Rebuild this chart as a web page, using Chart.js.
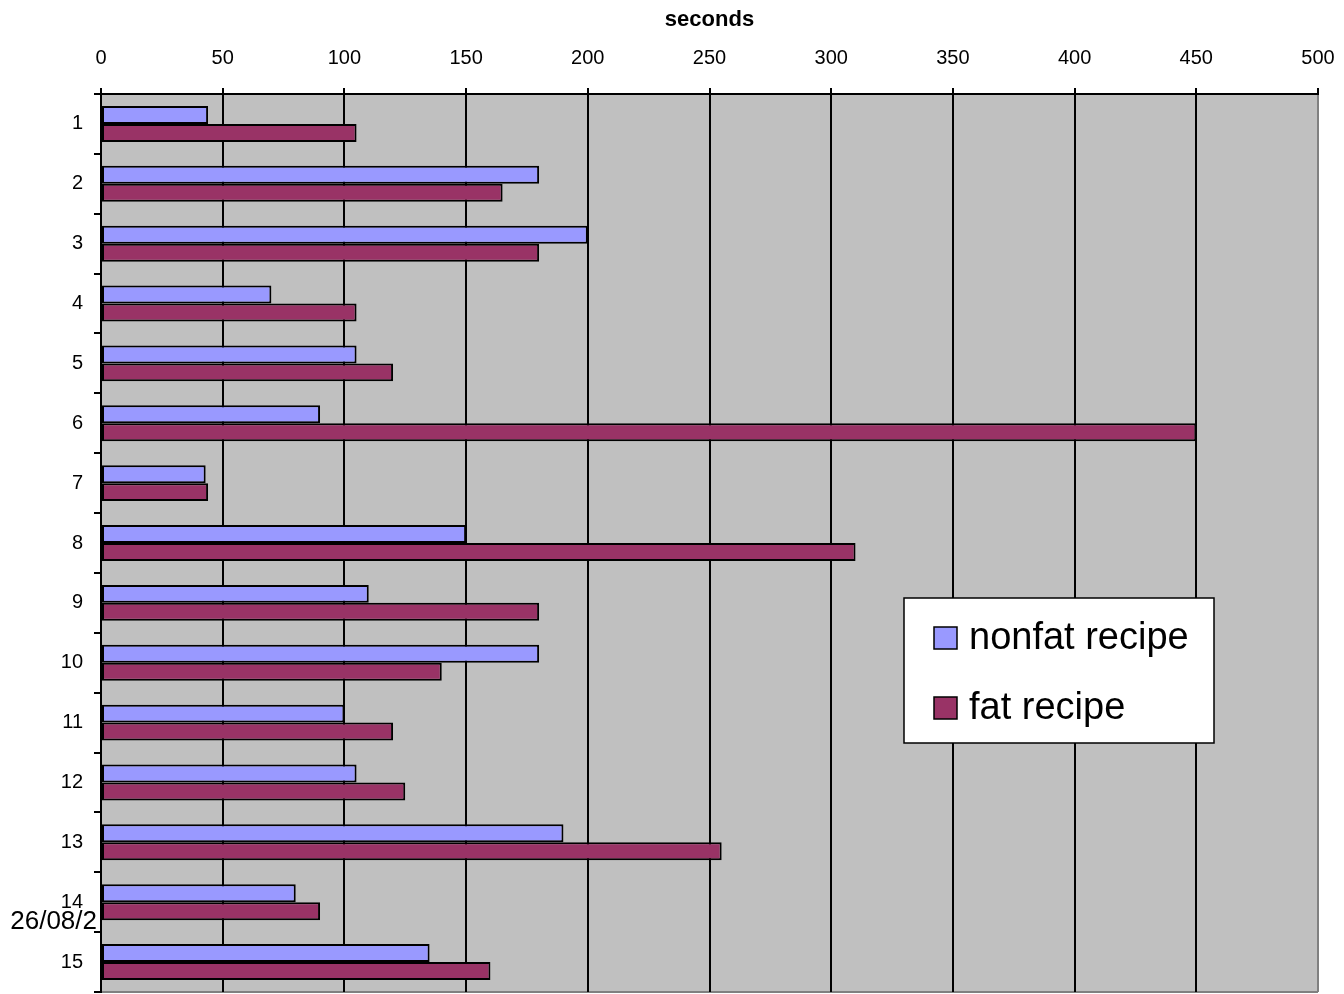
<!DOCTYPE html>
<html>
<head>
<meta charset="utf-8">
<script src="https://cdn.jsdelivr.net/npm/chart.js@4"></script>
<style>
  html, body { margin: 0; padding: 0; background: #fff; }
  #wrap { width: 1344px; height: 994px; }
</style>
</head>
<body>
<div id="wrap"><canvas id="chart" width="1344" height="994"></canvas></div>
<script>
const categories = ["1", "2", "3", "4", "5", "6", "7", "8", "9", "10", "11", "12", "13", "14", "15"];
const nonfatTimes = [44, 180, 200, 70, 105, 90, 43, 150, 110, 180, 100, 105, 190, 80, 135];
const fatTimes = [105, 165, 180, 105, 120, 450, 44, 310, 180, 140, 120, 125, 255, 90, 160];
const seriesNames = ["nonfat recipe", "fat recipe"];
const seriesColors = ["#9999FF", "#993366"];
const strayLabel = "26/08/2";

const FONT = '"Liberation Sans", Arial, sans-serif';

// gray plot area + bottom edge
const plotBackground = {
  id: "plotBackground",
  beforeDraw(chart) {
    const { ctx, chartArea: a } = chart;
    ctx.save();
    ctx.fillStyle = "#C0C0C0";
    ctx.fillRect(a.left, a.top, a.right - a.left, a.bottom - a.top);
    ctx.strokeStyle = "#808080";
    ctx.lineWidth = 2;
    ctx.beginPath();
    ctx.moveTo(a.left, a.bottom);
    ctx.lineTo(a.right, a.bottom);
    ctx.stroke();
    ctx.restore();
  },
};

// legend box floating inside the plot, plus the stray date text
const boxLegend = {
  id: "boxLegend",
  afterDraw(chart) {
    const ctx = chart.ctx;
    ctx.save();
    ctx.fillStyle = "#fff";
    ctx.fillRect(904, 598, 310, 145);
    ctx.strokeStyle = "#000";
    ctx.lineWidth = 1.5;
    ctx.strokeRect(904, 598, 310, 145);

    ctx.font = "38px " + FONT;
    ctx.textBaseline = "middle";
    ctx.textAlign = "left";
    chart.data.datasets.forEach((ds, i) => {
      const y = 627 + i * 70;
      ctx.fillStyle = ds.backgroundColor;
      ctx.fillRect(934, y, 23, 22);
      ctx.strokeStyle = "#000";
      ctx.lineWidth = 1.5;
      ctx.strokeRect(934, y, 23, 22);
      ctx.fillStyle = "#000";
      ctx.fillText(ds.label, 969, y + 12);
    });

    ctx.font = "26px " + FONT;
    ctx.textAlign = "right";
    ctx.fillText(strayLabel, 97, 922);
    ctx.restore();
  },
};

new Chart(document.getElementById("chart"), {
  type: "bar",
  data: {
    labels: categories,
    datasets: [
      {
        label: seriesNames[0],
        data: nonfatTimes,
        backgroundColor: seriesColors[0],
        borderColor: "#000",
        borderWidth: 2,
        borderSkipped: false,
      },
      {
        label: seriesNames[1],
        data: fatTimes,
        backgroundColor: seriesColors[1],
        borderColor: "#000",
        borderWidth: 2,
        borderSkipped: false,
      },
    ],
  },
  options: {
    indexAxis: "y",
    responsive: false,
    animation: false,
    layout: { padding: { left: 0, right: 26, top: 0, bottom: 2 } },
    datasets: { bar: { categoryPercentage: 0.6, barPercentage: 1.0 } },
    plugins: {
      legend: { display: false },
      tooltip: { enabled: false },
    },
    scales: {
      x: {
        position: "top",
        min: 0,
        max: 500,
        ticks: {
          stepSize: 50,
          color: "#000",
          padding: 18,
          font: { family: FONT, size: 20 },
        },
        grid: {
          color: (c) => (c.tick && c.tick.value === 500 ? "#808080" : "#000"),
          lineWidth: 2,
          tickLength: 6,
          tickColor: "#000",
        },
        border: { display: true, color: "#000", width: 2 },
        title: {
          display: true,
          text: "seconds",
          color: "#000",
          font: { family: FONT, size: 22, weight: "bold" },
          padding: { top: 7, bottom: 0 },
        },
        afterFit(scale) {
          scale.height = 94;
          scale.paddingLeft = 0;
          scale.paddingRight = 0;
        },
      },
      y: {
        ticks: {
          color: "#000",
          padding: 11,
          font: { family: FONT, size: 20 },
        },
        grid: {
          drawOnChartArea: false,
          color: "#000",
          lineWidth: 2,
          tickLength: 7,
          offset: true,
        },
        border: { display: true, color: "#000", width: 2 },
        afterFit(scale) {
          scale.width = 101;
          scale.paddingTop = 0;
          scale.paddingBottom = 0;
        },
      },
    },
  },
  plugins: [plotBackground, boxLegend],
});
</script>
</body>
</html>
